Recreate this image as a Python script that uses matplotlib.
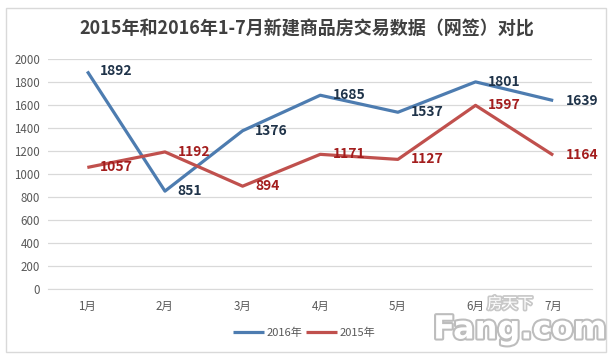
import matplotlib
matplotlib.use("Agg")
import matplotlib.pyplot as plt
from matplotlib.patches import Rectangle
import matplotlib.patheffects as pe

plt.rcParams['font.family'] = ['Noto Sans CJK SC', 'DejaVu Sans']

months = ['1月', '2月', '3月', '4月', '5月', '6月', '7月']
s2016 = [1892, 851, 1376, 1685, 1537, 1801, 1639]
s2015 = [1057, 1192, 894, 1171, 1127, 1597, 1164]
title = '2015年和2016年1-7月新建商品房交易数据（网签）对比'

W, H = 614, 360
fig = plt.figure(figsize=(W/100, H/100), dpi=100)
fig.patch.set_facecolor('white')
fig.add_artist(Rectangle((6/W, 8/H), 600/W, 344/H, transform=fig.transFigure,
                         fill=False, edgecolor='#d9d9d9', lw=1))

ax = fig.add_axes([48.5/W, 1-289/H, 543.5/W, 230/H])
x = list(range(len(months)))
c16, c15 = '#4d7cb0', '#c0504d'
ax.plot(x, s2016, color=c16, lw=2.3, solid_capstyle='butt', label='2016年', zorder=3)
ax.plot(x, s2015, color=c15, lw=2.3, solid_capstyle='butt', label='2015年', zorder=3)
for xi, v in zip(x, s2016):
    ax.annotate(str(v), (xi, v), xytext=(9, 0), textcoords='offset points',
                va='center', ha='left', fontsize=10, fontweight='bold', color='#1f3349', zorder=4)
for xi, v in zip(x, s2015):
    ax.annotate(str(v), (xi, v), xytext=(9, 0), textcoords='offset points',
                va='center', ha='left', fontsize=10, fontweight='bold', color='#a31d1d', zorder=4)

ax.set_xlim(-0.5, len(months)-0.5)
ax.set_ylim(0, 2000)
ax.set_yticks(range(0, 2001, 200))
ax.set_xticks(x)
ax.set_xticklabels(months)
ax.grid(axis='y', color='#d9d9d9', lw=0.9)
ax.set_axisbelow(True)
for s in ['top', 'right', 'left']:
    ax.spines[s].set_visible(False)
ax.spines['bottom'].set_color('#d9d9d9')
ax.tick_params(axis='both', length=0, labelsize=8.3, labelcolor='#595959')
ax.tick_params(axis='x', pad=8)
ax.tick_params(axis='y', pad=6)

fig.text(0.5, 1-29/H, title, ha='center', va='center', fontsize=13,
         fontweight='bold', color='#404040')

leg = fig.legend(loc='center', bbox_to_anchor=(304/W, 1-333/H), ncol=2, frameon=False,
                 fontsize=8, handlelength=2.8, columnspacing=0.3, handletextpad=0.2)
for t in leg.get_texts():
    t.set_color('#595959')

# watermark
fig.text(510/W, 1-304/H, '房天下', ha='center', va='center', fontsize=11,
         color='white', path_effects=[pe.withStroke(linewidth=2.5, foreground='#c8c8c8')], zorder=10)
fig.text(520/W, 1-330/H, 'Fang.com', ha='center', va='center', fontsize=23,
         fontweight='bold', color='white', path_effects=[pe.withStroke(linewidth=3, foreground='#bdbdbd')],
         zorder=10, family='DejaVu Sans')

fig.savefig('out.png', dpi=100, facecolor='white')
